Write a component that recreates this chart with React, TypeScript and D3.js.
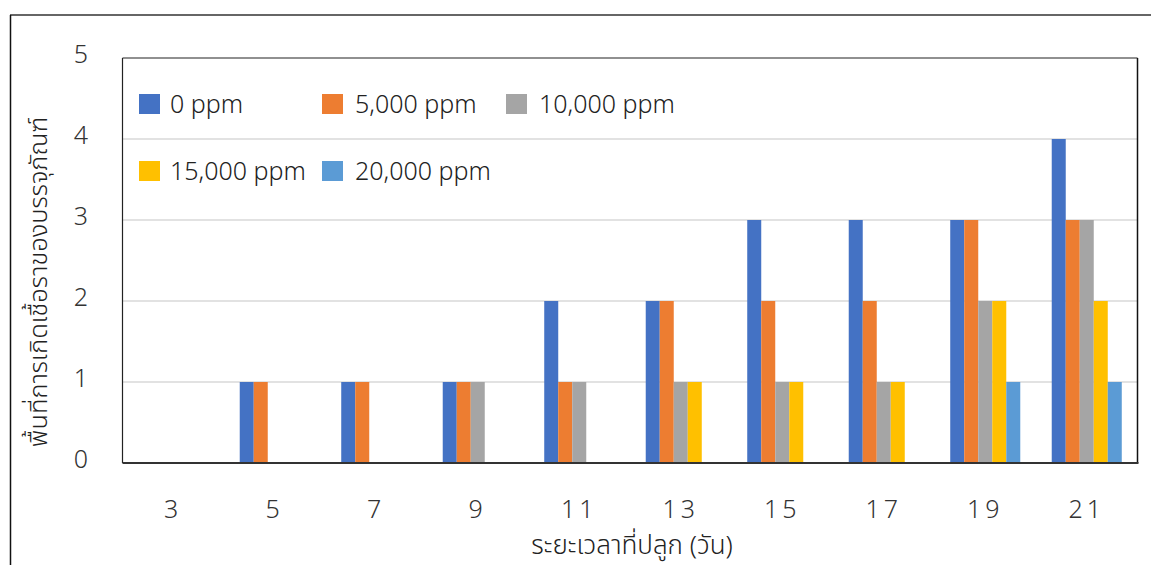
import React from "react";
import * as d3 from "d3";

const categories = ["3", "5", "7", "9", "11", "13", "15", "17", "19", "21"];
const seriesNames = ["0 ppm", "5,000 ppm", "10,000 ppm", "15,000 ppm", "20,000 ppm"];
const s0 = [0, 1, 1, 1, 2, 2, 3, 3, 3, 4];
const s5000 = [0, 1, 1, 1, 1, 2, 2, 2, 3, 3];
const s10000 = [0, 0, 0, 1, 1, 1, 1, 1, 2, 3];
const s15000 = [0, 0, 0, 0, 0, 1, 1, 1, 2, 2];
const s20000 = [0, 0, 0, 0, 0, 0, 0, 0, 1, 1];
const yTicks = [0, 1, 2, 3, 4, 5];
const colors = ["#4472C4", "#ED7D31", "#A5A5A5", "#FFC000", "#5B9BD5"];
const xTitle = "ระยะเวลาที่ปลูก (วัน)";
const yTitle = "พื้นที่การเกิดเชื้อราของบรรจุภัณฑ์";

const W = 1151;
const H = 565;
const left = 122.5;
const right = 1137.5;
const top = 58;
const bottom = 463;
const FONT = "'Noto Sans Thai', 'Noto Sans', 'DejaVu Sans', sans-serif";

export default function App() {
  const series = [s0, s5000, s10000, s15000, s20000];
  const x = d3.scaleBand<string>().domain(categories).range([left, right]).paddingInner(0).paddingOuter(0);
  const groupW = x.bandwidth() * 0.69;
  const xs = d3
    .scaleBand<number>()
    .domain(d3.range(series.length))
    .range([0, groupW]);
  const y = d3.scaleLinear().domain([0, 5]).range([bottom, top]);

  const legendPos = [
    { sx: 139, tx: 170, yy: 0 },
    { sx: 322, tx: 355, yy: 0 },
    { sx: 506, tx: 539, yy: 0 },
    { sx: 139, tx: 170, yy: 1 },
    { sx: 322, tx: 355, yy: 1 },
  ];

  return (
    <svg
      width={W}
      height={H}
      style={{ position: "absolute", left: 0, top: 0, background: "#fff" }}
      fontFamily={FONT}
      fontWeight={300}
    >
      <rect x={0} y={0} width={W} height={H} fill="#fff" />
      {/* outer border */}
      <line x1={10} x2={W} y1={15} y2={15} stroke="#333" strokeWidth={1.5} />
      <line x1={10.5} x2={10.5} y1={15} y2={H} stroke="#111" strokeWidth={1.5} />

      {/* gridlines */}
      {yTicks
        .filter((t) => t > 0 && t < 5)
        .map((t) => (
          <line key={t} x1={left} x2={right} y1={y(t)} y2={y(t)} stroke="#d9d9d9" strokeWidth={1.5} />
        ))}

      {/* bars */}
      {categories.map((c, i) => {
        const cx = (x(c) as number) + x.bandwidth() / 2 - groupW / 2;
        return series.map((s, j) =>
          s[i] > 0 ? (
            <rect
              key={c + "-" + j}
              x={cx + (xs(j) as number)}
              y={y(s[i])}
              width={xs.bandwidth()}
              height={y(0) - y(s[i])}
              fill={colors[j]}
            />
          ) : null
        );
      })}

      {/* plot frame */}
      <line x1={left} x2={right} y1={top} y2={top} stroke="#222" strokeWidth={1.2} />
      <line x1={left} x2={left} y1={top} y2={bottom} stroke="#222" strokeWidth={1.2} />
      <line x1={right} x2={right} y1={top} y2={bottom} stroke="#111" strokeWidth={1.5} />
      <line x1={left} x2={right + 1} y1={bottom} y2={bottom} stroke="#333" strokeWidth={1.8} />

      {/* y tick labels */}
      {yTicks.map((t) => (
        <text key={t} x={88} y={y(t) + 4.5} textAnchor="end" fontSize={25} fill="#333">
          {t}
        </text>
      ))}

      {/* x tick labels */}
      {categories.map((c) => (
        <text
          key={c}
          x={(x(c) as number) + x.bandwidth() / 2}
          y={518}
          textAnchor="middle"
          fontSize={25}
          fill="#333"
          letterSpacing={4}
        >
          {c}
        </text>
      ))}

      {/* x title */}
      <text x={632} y={554} textAnchor="middle" fontSize={26} fill="#222">
        {xTitle}
      </text>

      {/* y title */}
      <text
        transform={`translate(47, 282) rotate(-90)`}
        textAnchor="middle"
        fontSize={25.5}
        fill="#222"
      >
        {yTitle}
      </text>

      {/* legend */}
      {seriesNames.map((n, i) => {
        const p = legendPos[i];
        const cy = p.yy === 0 ? 104 : 171;
        return (
          <g key={n}>
            <rect x={p.sx} y={cy - 10} width={21} height={20} fill={colors[i]} />
            <text x={p.tx} y={cy + 8.5} fontSize={25} fill="#222">
              {n}
            </text>
          </g>
        );
      })}
    </svg>
  );
}
